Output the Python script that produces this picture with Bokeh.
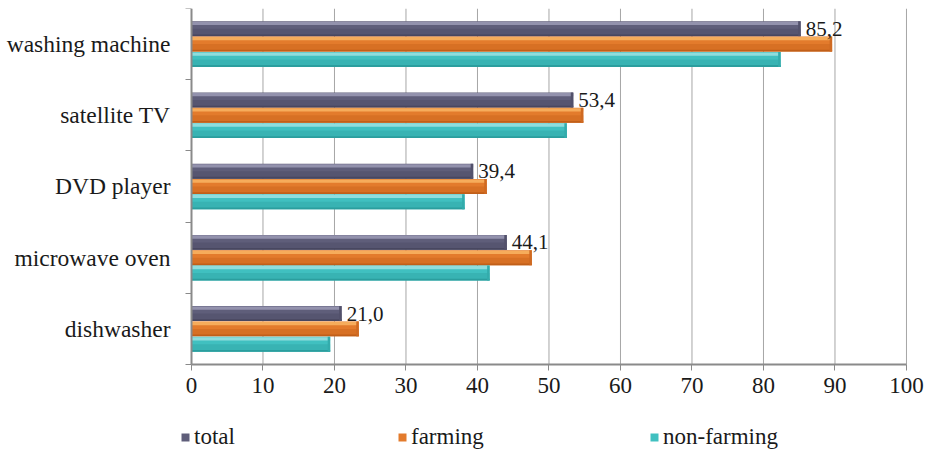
from bokeh.plotting import figure
from bokeh.models import (ColumnDataSource, FixedTicker, Legend, LegendItem,
                          Range1d)
from bokeh.core.properties import value
from bokeh.embed import file_html
from bokeh.resources import INLINE

# Share of households owning each appliance, %
categories = ["washing machine", "satellite TV", "DVD player",
              "microwave oven", "dishwasher"]
total = [85.2, 53.4, 39.4, 44.1, 21.0]
farming = [89.6, 54.8, 41.3, 47.6, 23.4]
non_farming = [82.4, 52.5, 38.2, 41.7, 19.4]
x_ticks = [0, 10, 20, 30, 40, 50, 60, 70, 80, 90, 100]
series_names = ["total", "farming", "non-farming"]

FONT = "Liberation Serif"
TEXT_COLOR = "#1a1a1a"
AXIS_COLOR = "#8a8a8a"
n = len(categories)
centers = [n - 0.5 - i for i in range(n)]   # top category first
x_max = x_ticks[-1]

BAR_H = 0.21
styles = [
    # offset, body, highlight, shadow, end facet
    (0.215, "#5f5e7a", "#9998b3", "#47465e", "#52516b"),
    (0.0, "#e37b2c", "#f7b160", "#bf5d18", "#cf6a22"),
    (-0.215, "#40c0c0", "#98e0e0", "#2a9b9b", "#33acac"),
]
values = [total, farming, non_farming]

# The frame covers the whole canvas below the top margin so that the
# category names, the last tick label and the legend row all live inside
# it; both axes are pinned to the data origin.
p = figure(width=929, height=451, output_backend="svg", toolbar_location=None,
           x_range=Range1d(-26.71, 103.22), y_range=Range1d(-1.222, n),
           min_border_left=0, min_border_right=0, min_border_top=8,
           min_border_bottom=0)
p.outline_line_color = None
p.xgrid.visible = False
p.ygrid.visible = False

# vertical grid lines over the category area only
grid_x = x_ticks[1:]
p.segment(x0=grid_x, y0=[0] * len(grid_x), x1=grid_x, y1=[n] * len(grid_x),
          line_color="#a6a6a6", line_width=1)

body_renderers = []
for vals, (off, body, hi, sh, cap) in zip(values, styles):
    ys = [c + off for c in centers]
    src = ColumnDataSource(dict(
        y=ys, right=vals,
        y_hi=[y + BAR_H * 0.36 for y in ys],
        y_lo=[y - BAR_H * 0.25 for y in ys],
        y_sh=[y - BAR_H * 0.44 for y in ys],
        cap_left=[v - 0.35 for v in vals],
    ))
    r = p.hbar(y="y", left=0, right="right", height=BAR_H, source=src,
               fill_color=body, line_color=None)
    # light upper edge and darker lower half give the bars a bevelled look
    p.hbar(y="y_hi", left=0, right="right", height=BAR_H * 0.22, source=src,
           fill_color=hi, line_color=None, fill_alpha=0.9)
    p.hbar(y="y_lo", left=0, right="right", height=BAR_H * 0.50, source=src,
           fill_color=sh, line_color=None, fill_alpha=0.35)
    p.hbar(y="y_sh", left=0, right="right", height=BAR_H * 0.12, source=src,
           fill_color=sh, line_color=None, fill_alpha=0.9)
    p.hbar(y="y", left="cap_left", right="right", height=BAR_H, source=src,
           fill_color=cap, line_color=None)
    body_renderers.append(r)

# value labels next to the "total" bars
lab_src = ColumnDataSource(dict(
    x=total,
    y=[c + styles[0][0] for c in centers],
    text=[f"{v:.1f}".replace(".", ",") for v in total],
))
p.text(x="x", y="y", text="text", source=lab_src, x_offset=5,
       text_baseline="middle", text_align="left",
       text_font=value(FONT), text_font_size="21px", text_color=TEXT_COLOR)

# x axis at y = 0
xa = p.xaxis[0]
xa.fixed_location = 0
xa.bounds = (0, x_max)
xa.ticker = FixedTicker(ticks=x_ticks)
xa.axis_line_color = AXIS_COLOR
xa.axis_line_width = 2
xa.major_tick_line_color = AXIS_COLOR
xa.major_tick_out = 6
xa.major_tick_in = 0
xa.minor_tick_line_color = None
xa.major_label_text_font = FONT
xa.major_label_text_font_size = "23px"
xa.major_label_text_color = TEXT_COLOR
xa.major_label_standoff = 8

# y axis at x = 0: names at band centres, ticks at band boundaries
ya = p.yaxis[0]
ya.fixed_location = 0
ya.bounds = (0, n)
ya.ticker = FixedTicker(ticks=centers, minor_ticks=list(range(n + 1)))
ya.major_label_overrides = {c: name for c, name in zip(centers, categories)}
ya.axis_line_color = AXIS_COLOR
ya.axis_line_width = 2
ya.major_tick_line_color = None
ya.minor_tick_line_color = AXIS_COLOR
ya.minor_tick_out = 6
ya.minor_tick_in = 0
ya.major_label_text_font = FONT
ya.major_label_text_font_size = "23.5px"
ya.major_label_text_color = TEXT_COLOR
ya.major_label_standoff = 15

# legend row along the bottom
legend_x = [180, 397, 649]
for name, r, lx in zip(series_names, body_renderers, legend_x):
    lg = Legend(items=[LegendItem(label=name, renderers=[r])],
                location=(lx, 1), orientation="horizontal",
                padding=0, margin=0, border_line_color=None,
                background_fill_alpha=0, glyph_width=10, glyph_height=10,
                label_standoff=4, label_text_font=FONT,
                label_text_font_size="23px", label_text_color=TEXT_COLOR)
    p.add_layout(lg)

open("out.html", "w").write(file_html(p, INLINE))
